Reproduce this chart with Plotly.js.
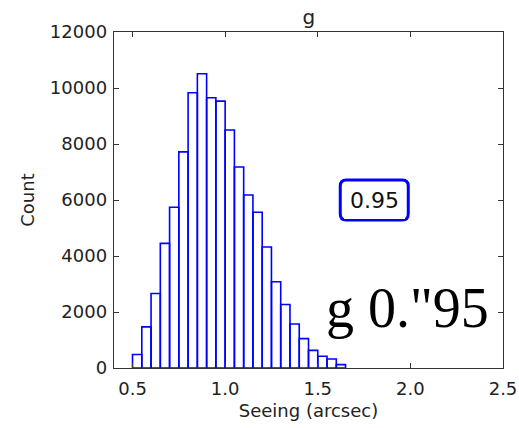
<!DOCTYPE html>
<html><head><meta charset="utf-8">
<script src="https://cdn.plot.ly/plotly-3.0.1.min.js"></script>
<style>html,body{margin:0;padding:0;background:#fff}#chart{width:519px;height:428px}</style>
</head><body><div id="chart"></div>
<script>
const binStarts = [0.50,0.55,0.60,0.65,0.70,0.75,0.80,0.85,0.90,0.95,1.00,1.05,1.10,1.15,1.20,1.25,1.30,1.35,1.40,1.45,1.50,1.55,1.60];
const counts = [480,1470,2660,4450,5740,7720,9830,10510,9650,9530,8500,7180,6180,5560,4320,3080,2270,1570,1050,630,420,320,120];
const binWidth = 0.05;
const xTicks = [0.5,1.0,1.5,2.0,2.5];
const yTicks = [0,2000,4000,6000,8000,10000,12000];

const font = {family:'DejaVu Sans', size:18, color:'#222'};
const data = [{
  type:'bar',
  x: binStarts.map(v => v + binWidth/2),
  y: counts,
  width: binWidth,
  marker:{color:'rgba(255,255,255,0)', line:{color:'#0000ff', width:1.6}},
  hoverinfo:'skip'
}];
const axisCommon = {showgrid:false, zeroline:false, showline:true, linecolor:'#333', linewidth:1.3,
  mirror:'allticks', ticks:'inside', ticklen:5, tickcolor:'#333', tickwidth:1, tickfont:font};
const layout = {
  width:519, height:428,
  margin:{l:114, r:16, t:32, b:60},
  paper_bgcolor:'#fff', plot_bgcolor:'#fff',
  showlegend:false,
  bargap:0,
  title:{text:'g', font:{family:'DejaVu Sans', size:20, color:'#222'}, x:0.595, xanchor:'center', y:0.96, yanchor:'middle'},
  xaxis: Object.assign({}, axisCommon, {range:[0.4,2.5], tickvals:xTicks, ticktext:xTicks.map(v=>v.toFixed(1)),
     ticklabelstandoff:4, title:{text:'Seeing (arcsec)', font:font, standoff:6}}),
  yaxis: Object.assign({}, axisCommon, {range:[0,12000], tickvals:yTicks, ticktext:yTicks.map(String),
     ticklabelstandoff:2, title:{text:'Count', font:font, standoff:10}}),
  annotations:[
    {xref:'x', yref:'y', x:1.805, y:6000, text:'0.95', showarrow:false,
     font:{family:'DejaVu Sans', size:22, color:'#111'}, bgcolor:'#fff', bordercolor:'#0000ff', borderwidth:0, borderpad:6},
    {xref:'paper', yref:'paper', x:0.540, y:0.18, xanchor:'left', yanchor:'middle', text:'g 0."95', showarrow:false,
     font:{family:'Liberation Serif', size:56, color:'#000'}}
  ],
  shapes:[]
};
// rounded box around the 0.95 label, sized in data units of the plot
(function(){
  const cx = 1.805, cy = 6000;
  const xPerPx = 2.1/389, yPerPx = 12000/336;
  const hw = 34*xPerPx, hh = 20*yPerPx, r = 6;
  const rx = r*xPerPx, ry = r*yPerPx;
  const x0=cx-hw, x1=cx+hw, y0=cy-hh, y1=cy+hh;
  const p = `M${x0+rx},${y1} L${x1-rx},${y1} Q${x1},${y1} ${x1},${y1-ry} L${x1},${y0+ry} Q${x1},${y0} ${x1-rx},${y0} L${x0+rx},${y0} Q${x0},${y0} ${x0},${y0+ry} L${x0},${y1-ry} Q${x0},${y1} ${x0+rx},${y1} Z`;
  layout.shapes.push({type:'path', xref:'x', yref:'y', path:p, line:{color:'#0000ff', width:3}, layer:'above'});
})();
Plotly.newPlot('chart', data, layout, {displayModeBar:false, staticPlot:true});
</script></body></html>
